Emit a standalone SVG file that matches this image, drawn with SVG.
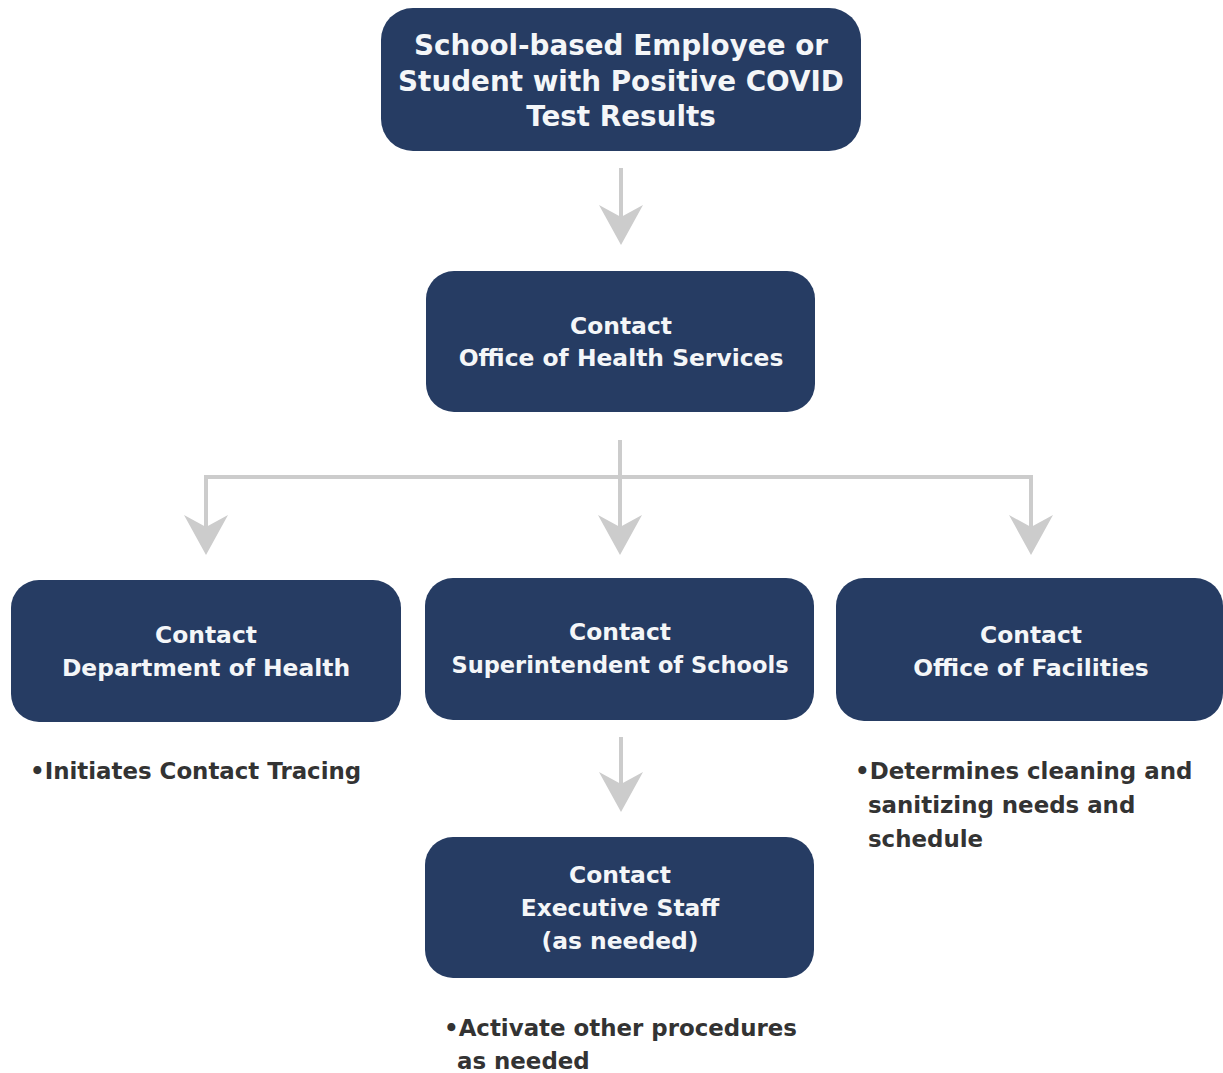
<svg xmlns="http://www.w3.org/2000/svg" width="1223" height="1073" viewBox="0 0 1223 1073">
<style>
.box{fill:#263c63;}
.t{font-family:"DejaVu Sans","Liberation Sans",sans-serif;font-weight:700;fill:#f4f6f8;text-anchor:middle;}
.big{font-size:27.8px;}
.mid{font-size:23.4px;}
.note{font-family:"DejaVu Sans","Liberation Sans",sans-serif;font-weight:700;font-size:22.9px;fill:#333333;}
.line{stroke:#cccccc;stroke-width:4;fill:none;}
.head{fill:#cccccc;}
</style>
<defs>
<path id="ah" d="M0,0 L-22,-40 L0,-28 L22,-40 Z"/>
</defs>
<rect width="1223" height="1073" fill="#ffffff"/>
<g id="connectors">
<line class="line" x1="621" y1="168" x2="621" y2="235"/>
<use href="#ah" class="head" x="621" y="245"/>
<line class="line" x1="620" y1="440" x2="620" y2="545"/>
<polyline class="line" points="206,545 206,477 1031,477 1031,545"/>
<use href="#ah" class="head" x="206" y="555"/>
<use href="#ah" class="head" x="620" y="555"/>
<use href="#ah" class="head" x="1031" y="555"/>
<line class="line" x1="621" y1="737" x2="621" y2="802"/>
<use href="#ah" class="head" x="621" y="812"/>
</g>
<g id="node-source">
<rect class="box" x="381" y="8" width="480" height="143" rx="32"/>
<text class="t big" x="621" y="55">School-based Employee or</text>
<text class="t big" x="621" y="91">Student with Positive COVID</text>
<text class="t big" x="621" y="126">Test Results</text>
</g>
<g id="node-health-services">
<rect class="box" x="426" y="271" width="389" height="141" rx="28"/>
<text class="t mid" x="621" y="334">Contact</text>
<text class="t mid" x="621" y="366">Office of Health Services</text>
</g>
<g id="node-dept-health">
<rect class="box" x="11" y="580" width="390" height="142" rx="28"/>
<text class="t mid" x="206" y="643">Contact</text>
<text class="t mid" x="206" y="676">Department of Health</text>
</g>
<g id="node-superintendent">
<rect class="box" x="425" y="578" width="389" height="142" rx="28"/>
<text class="t mid" x="620" y="640">Contact</text>
<text class="t mid" x="620" y="673" style="font-size:22.5px">Superintendent of Schools</text>
</g>
<g id="node-facilities">
<rect class="box" x="836" y="578" width="387" height="143" rx="28"/>
<text class="t mid" x="1031" y="643">Contact</text>
<text class="t mid" x="1031" y="676">Office of Facilities</text>
</g>
<g id="node-executive">
<rect class="box" x="425" y="837" width="389" height="141" rx="28"/>
<text class="t mid" x="620" y="883">Contact</text>
<text class="t mid" x="620" y="916">Executive Staff</text>
<text class="t mid" x="620" y="949">(as needed)</text>
</g>
<g id="notes">
<text class="note" x="30" y="779">•Initiates Contact Tracing</text>
<text class="note" x="855" y="779">•Determines cleaning and</text>
<text class="note" x="868" y="813">sanitizing needs and</text>
<text class="note" x="868" y="847">schedule</text>
<text class="note" x="444" y="1036">•Activate other procedures</text>
<text class="note" x="457" y="1069">as needed</text>
</g>
</svg>
